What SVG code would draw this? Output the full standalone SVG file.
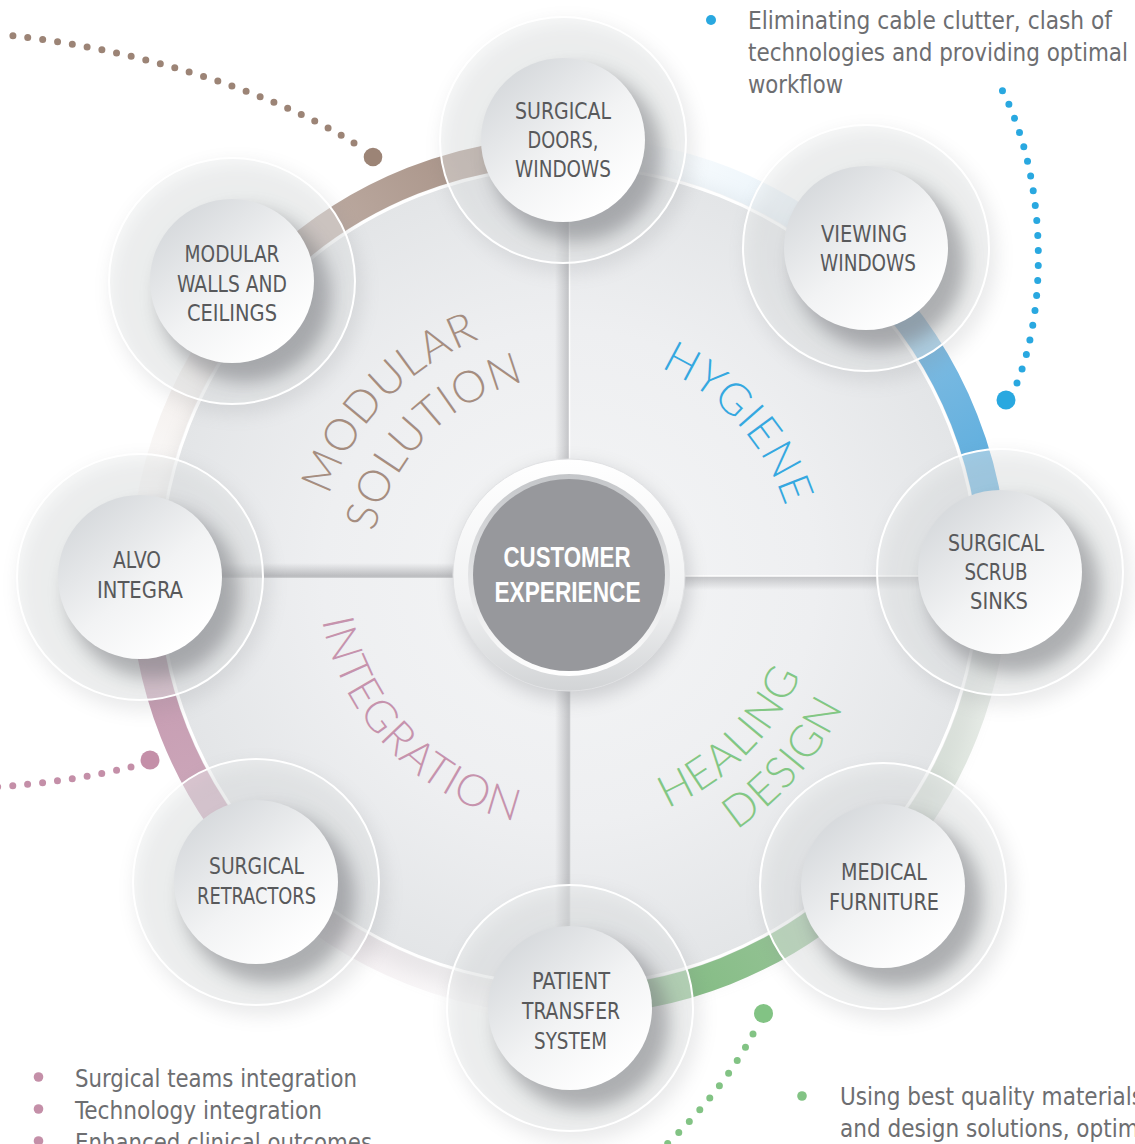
<svg xmlns="http://www.w3.org/2000/svg" width="1135" height="1144" viewBox="0 0 1135 1144">
<style>
.lbl{font-family:'Liberation Sans Narrow','DejaVu Sans Condensed','Liberation Sans',sans-serif;font-size:23px;fill:#58595b;text-anchor:middle}
.bul{font-family:'Liberation Sans Narrow','DejaVu Sans Condensed','Liberation Sans',sans-serif;font-size:25px;fill:#6d6e71}
.quad{font-family:Lato,'Liberation Sans',sans-serif;font-weight:300;font-size:44px;letter-spacing:1px;text-anchor:middle}
.ce{font-family:'Liberation Sans Narrow','Liberation Sans',sans-serif;font-weight:bold;font-size:29px;fill:#fff;text-anchor:middle}
.dots{fill:none;stroke-width:7;stroke-linecap:round}
</style>
<defs>
<filter id="soft" x="-50%" y="-50%" width="200%" height="200%"><feGaussianBlur stdDeviation="9"/></filter>
<radialGradient id="discG" cx="569" cy="576" r="410" gradientUnits="userSpaceOnUse">
<stop offset="0" stop-color="#f4f5f6"/><stop offset="0.6" stop-color="#eeeff1"/><stop offset="1" stop-color="#e3e5e7"/>
</radialGradient>
<linearGradient id="brownG" gradientUnits="userSpaceOnUse" x1="144" y1="576" x2="569" y2="151">
<stop offset="0" stop-color="#d6c6bd" stop-opacity="0"/><stop offset="0.35" stop-color="#cdbbb1" stop-opacity="0.3"/><stop offset="0.55" stop-color="#b6a298" stop-opacity="0.85"/><stop offset="1" stop-color="#9f887b"/>
</linearGradient>
<linearGradient id="blueG" gradientUnits="userSpaceOnUse" x1="569" y1="151" x2="994" y2="576">
<stop offset="0" stop-color="#d8ebf7" stop-opacity="0"/><stop offset="0.4" stop-color="#cfe5f4" stop-opacity="0.55"/><stop offset="0.58" stop-color="#7ab8e0" stop-opacity="0.9"/><stop offset="1" stop-color="#4aa6dc"/>
</linearGradient>
<linearGradient id="greenG" gradientUnits="userSpaceOnUse" x1="994" y1="576" x2="569" y2="1001">
<stop offset="0" stop-color="#cdd5cd" stop-opacity="0.3"/><stop offset="0.45" stop-color="#bccdbc" stop-opacity="0.65"/><stop offset="0.62" stop-color="#93c193" stop-opacity="0.95"/><stop offset="1" stop-color="#78b878"/>
</linearGradient>
<linearGradient id="pinkG" gradientUnits="userSpaceOnUse" x1="569" y1="1001" x2="144" y2="576">
<stop offset="0" stop-color="#dcd3d8" stop-opacity="0"/><stop offset="0.4" stop-color="#d9c4cf" stop-opacity="0.35"/><stop offset="0.58" stop-color="#c9a2b6" stop-opacity="0.9"/><stop offset="1" stop-color="#c395ac"/>
</linearGradient>
<linearGradient id="shadeUp" x1="0" y1="0" x2="0" y2="1">
<stop offset="0" stop-color="#8a8b8f" stop-opacity="0"/><stop offset="1" stop-color="#8a8b8f" stop-opacity="0.55"/>
</linearGradient>
<linearGradient id="shadeDown" x1="0" y1="0" x2="0" y2="1">
<stop offset="0" stop-color="#8a8b8f" stop-opacity="0.45"/><stop offset="1" stop-color="#8a8b8f" stop-opacity="0"/>
</linearGradient>
<linearGradient id="shadeLeft" x1="0" y1="0" x2="1" y2="0">
<stop offset="0" stop-color="#8a8b8f" stop-opacity="0"/><stop offset="1" stop-color="#8a8b8f" stop-opacity="0.45"/>
</linearGradient>
<linearGradient id="faceG" x1="0.15" y1="0.1" x2="0.8" y2="0.9">
<stop offset="0" stop-color="#d6d9dc"/><stop offset="0.55" stop-color="#f2f3f4"/><stop offset="1" stop-color="#ffffff"/>
</linearGradient>
<linearGradient id="ceRing" x1="0" y1="0" x2="0" y2="1">
<stop offset="0" stop-color="#ffffff"/><stop offset="0.6" stop-color="#f1f2f3"/><stop offset="1" stop-color="#d2d4d6"/>
</linearGradient>
<linearGradient id="ceBevel" x1="0" y1="0" x2="0" y2="1">
<stop offset="0" stop-color="#c4c6c9"/><stop offset="1" stop-color="#ffffff"/>
</linearGradient>
<clipPath id="discClip"><circle cx="569" cy="576" r="408"/></clipPath>
<clipPath id="ringClip"><circle r="122"/></clipPath>
<g id="nodeBase">
<circle r="126" cx="5" cy="8" fill="#7d7f84" opacity="0.16" filter="url(#soft)"/>
<circle r="123" fill="#eff0f1" fill-opacity="0.42"/>
<g clip-path="url(#ringClip)"><circle r="86" cx="13" cy="15" fill="#6f7176" opacity="0.5" filter="url(#soft)"/></g>
<circle r="123" fill="none" stroke="#ffffff" stroke-width="2"/>
<circle r="82" fill="url(#faceG)"/>
</g>
<path id="tpModular" d="M393.2,758 A253,253 0 0 1 744.8,394"/>
<path id="tpSolution" d="M424.8,720.2 A204,204 0 0 1 713.2,431.8"/>
<path id="tpHygiene" d="M415.1,405.1 A230,230 0 0 1 722.9,746.9"/>
<path id="tpHealing" d="M390.8,754.2 A252,252 0 0 0 747.2,397.8"/>
<path id="tpDesign" d="M369.5,805.4 A304,304 0 0 0 768.5,346.6"/>
<path id="tpIntegration" d="M391.9,392.6 A255,255 0 0 0 746.1,759.4"/>
</defs>

<rect width="1135" height="1144" fill="#ffffff"/>

<g id="disc">
<circle cx="575" cy="586" r="420" fill="#9a9ca0" opacity="0.18" filter="url(#soft)"/>
<circle cx="569" cy="576" r="410" fill="url(#discG)"/>
<g clip-path="url(#discClip)">
<rect x="150" y="563" width="305" height="14" fill="url(#shadeUp)"/>
<rect x="683" y="576" width="300" height="14" fill="url(#shadeDown)"/>
<rect x="555" y="160" width="14" height="300" fill="url(#shadeLeft)"/>
<rect x="555" y="690" width="14" height="300" fill="url(#shadeLeft)"/>
<line x1="150" y1="577" x2="455" y2="577" stroke="#bfc0c3" stroke-width="1.5"/>
<line x1="683" y1="576" x2="990" y2="576" stroke="#ffffff" stroke-width="1.5"/>
<line x1="569.5" y1="160" x2="569.5" y2="460" stroke="#ffffff" stroke-width="1.5"/>
<line x1="569.5" y1="690" x2="569.5" y2="1000" stroke="#c8c9cc" stroke-width="1.5"/>
</g>
<circle cx="569" cy="576" r="409" fill="none" stroke="#ffffff" stroke-width="3"/>
</g>

<g id="bands">
<path d="M144,576 A425,425 0 0 1 569,151" fill="none" stroke="url(#brownG)" stroke-width="28"/>
<path d="M569,151 A425,425 0 0 1 994,576" fill="none" stroke="url(#blueG)" stroke-width="28"/>
<path d="M994,576 A425,425 0 0 1 569,1001" fill="none" stroke="url(#greenG)" stroke-width="28"/>
<path d="M569,1001 A425,425 0 0 1 144,576" fill="none" stroke="url(#pinkG)" stroke-width="28"/>
</g>

<g id="quadrant-labels">
<text class="quad" fill="#a58d80"><textPath href="#tpModular" startOffset="50%">MODULAR</textPath></text>
<text class="quad" fill="#a58d80"><textPath href="#tpSolution" startOffset="50%">SOLUTION</textPath></text>
<text class="quad" fill="#35a8e0"><textPath href="#tpHygiene" startOffset="50%">HYGIENE</textPath></text>
<text class="quad" fill="#82c784"><textPath href="#tpHealing" startOffset="50%">HEALING</textPath></text>
<text class="quad" fill="#82c784"><textPath href="#tpDesign" startOffset="50%">DESIGN</textPath></text>
<text class="quad" fill="#c693ad"><textPath href="#tpIntegration" startOffset="50%">INTEGRATION</textPath></text>
</g>

<g id="center">
<circle cx="572" cy="582" r="118" fill="#7d7f84" opacity="0.3" filter="url(#soft)"/>
<circle cx="569" cy="575" r="116" fill="url(#ceRing)" stroke="#e1e2e4" stroke-width="1"/>
<circle cx="569" cy="575" r="101" fill="url(#ceBevel)"/>
<circle cx="569" cy="575" r="96" fill="#97989c"/>
<text class="ce" x="567" y="567" textLength="127" lengthAdjust="spacingAndGlyphs">CUSTOMER</text>
<text class="ce" x="567.5" y="602" textLength="146" lengthAdjust="spacingAndGlyphs">EXPERIENCE</text>
</g>

<g id="node-surgical-doors" transform="translate(563,140)">
<use href="#nodeBase"/>
<text class="lbl" x="0" y="-21" textLength="96" lengthAdjust="spacingAndGlyphs">SURGICAL</text>
<text class="lbl" x="0" y="8" textLength="71" lengthAdjust="spacingAndGlyphs">DOORS,</text>
<text class="lbl" x="0" y="37" textLength="96" lengthAdjust="spacingAndGlyphs">WINDOWS</text>
</g>
<g id="node-viewing-windows" transform="translate(866,248)">
<use href="#nodeBase"/>
<text class="lbl" x="-2" y="-6" textLength="86" lengthAdjust="spacingAndGlyphs">VIEWING</text>
<text class="lbl" x="2" y="23" textLength="96" lengthAdjust="spacingAndGlyphs">WINDOWS</text>
</g>
<g id="node-scrub-sinks" transform="translate(1000,572)">
<use href="#nodeBase"/>
<text class="lbl" x="-4" y="-21" textLength="96" lengthAdjust="spacingAndGlyphs">SURGICAL</text>
<text class="lbl" x="-4" y="8" textLength="63" lengthAdjust="spacingAndGlyphs">SCRUB</text>
<text class="lbl" x="-1" y="37" textLength="58" lengthAdjust="spacingAndGlyphs">SINKS</text>
</g>
<g id="node-medical-furniture" transform="translate(883,886)">
<use href="#nodeBase"/>
<text class="lbl" x="1" y="-6" textLength="86" lengthAdjust="spacingAndGlyphs">MEDICAL</text>
<text class="lbl" x="1" y="24" textLength="110" lengthAdjust="spacingAndGlyphs">FURNITURE</text>
</g>
<g id="node-patient-transfer" transform="translate(570,1008)">
<use href="#nodeBase"/>
<text class="lbl" x="1" y="-19" textLength="78" lengthAdjust="spacingAndGlyphs">PATIENT</text>
<text class="lbl" x="1" y="11" textLength="98" lengthAdjust="spacingAndGlyphs">TRANSFER</text>
<text class="lbl" x="0.5" y="41" textLength="73" lengthAdjust="spacingAndGlyphs">SYSTEM</text>
</g>
<g id="node-surgical-retractors" transform="translate(256,882)">
<use href="#nodeBase"/>
<text class="lbl" x="0.5" y="-8" textLength="95" lengthAdjust="spacingAndGlyphs">SURGICAL</text>
<text class="lbl" x="0.5" y="22" textLength="119" lengthAdjust="spacingAndGlyphs">RETRACTORS</text>
</g>
<g id="node-alvo-integra" transform="translate(140,577)">
<use href="#nodeBase"/>
<text class="lbl" x="-3" y="-9" textLength="48" lengthAdjust="spacingAndGlyphs">ALVO</text>
<text class="lbl" x="0" y="21" textLength="86" lengthAdjust="spacingAndGlyphs">INTEGRA</text>
</g>
<g id="node-modular-walls" transform="translate(232,281)">
<use href="#nodeBase"/>
<text class="lbl" x="0" y="-19" textLength="95" lengthAdjust="spacingAndGlyphs">MODULAR</text>
<text class="lbl" x="0" y="11" textLength="110" lengthAdjust="spacingAndGlyphs">WALLS AND</text>
<text class="lbl" x="0" y="40" textLength="90" lengthAdjust="spacingAndGlyphs">CEILINGS</text>
</g>

<g id="connectors">
<path class="dots" d="M354,143 C262,86 124,47 6,35" stroke="#9c8476" stroke-dasharray="0 15"/>
<circle cx="373" cy="157" r="9.3" fill="#9c8476"/>
<path class="dots" d="M1017,383 C1050,300 1045,170 1000,86" stroke="#29a8e0" stroke-dasharray="0 15"/>
<circle cx="1006" cy="400" r="9.5" fill="#29a8e0"/>
<path class="dots" d="M131,767 Q70,782 -5,787" stroke="#c48fa8" stroke-dasharray="0 15"/>
<circle cx="150" cy="760" r="9.5" fill="#c48fa8"/>
<path class="dots" d="M753,1034 Q722,1092 663,1148" stroke="#82c384" stroke-dasharray="0 15.5"/>
<circle cx="763.5" cy="1013.5" r="9.5" fill="#82c384"/>
</g>

<g id="notes-hygiene">
<circle cx="711" cy="20" r="5" fill="#29a8e0"/>
<text class="bul" x="748" y="29" textLength="364" lengthAdjust="spacingAndGlyphs">Eliminating cable clutter, clash of</text>
<text class="bul" x="748" y="61" textLength="380" lengthAdjust="spacingAndGlyphs">technologies and providing optimal</text>
<text class="bul" x="748" y="93" textLength="95" lengthAdjust="spacingAndGlyphs">workflow</text>
</g>
<g id="notes-integration">
<circle cx="38.5" cy="1077" r="4.8" fill="#c48fa8"/>
<circle cx="38.5" cy="1109" r="4.8" fill="#c48fa8"/>
<circle cx="38.5" cy="1141" r="4.8" fill="#c48fa8"/>
<text class="bul" x="75" y="1087" textLength="282" lengthAdjust="spacingAndGlyphs">Surgical teams integration</text>
<text class="bul" x="75" y="1119" textLength="247" lengthAdjust="spacingAndGlyphs">Technology integration</text>
<text class="bul" x="75" y="1151" textLength="297" lengthAdjust="spacingAndGlyphs">Enhanced clinical outcomes</text>
</g>
<g id="notes-healing">
<circle cx="802" cy="1096" r="4.8" fill="#82c384"/>
<text class="bul" x="840" y="1105" textLength="303" lengthAdjust="spacingAndGlyphs">Using best quality materials</text>
<text class="bul" x="840" y="1137" textLength="318" lengthAdjust="spacingAndGlyphs">and design solutions, optimal</text>
</g>
</svg>
